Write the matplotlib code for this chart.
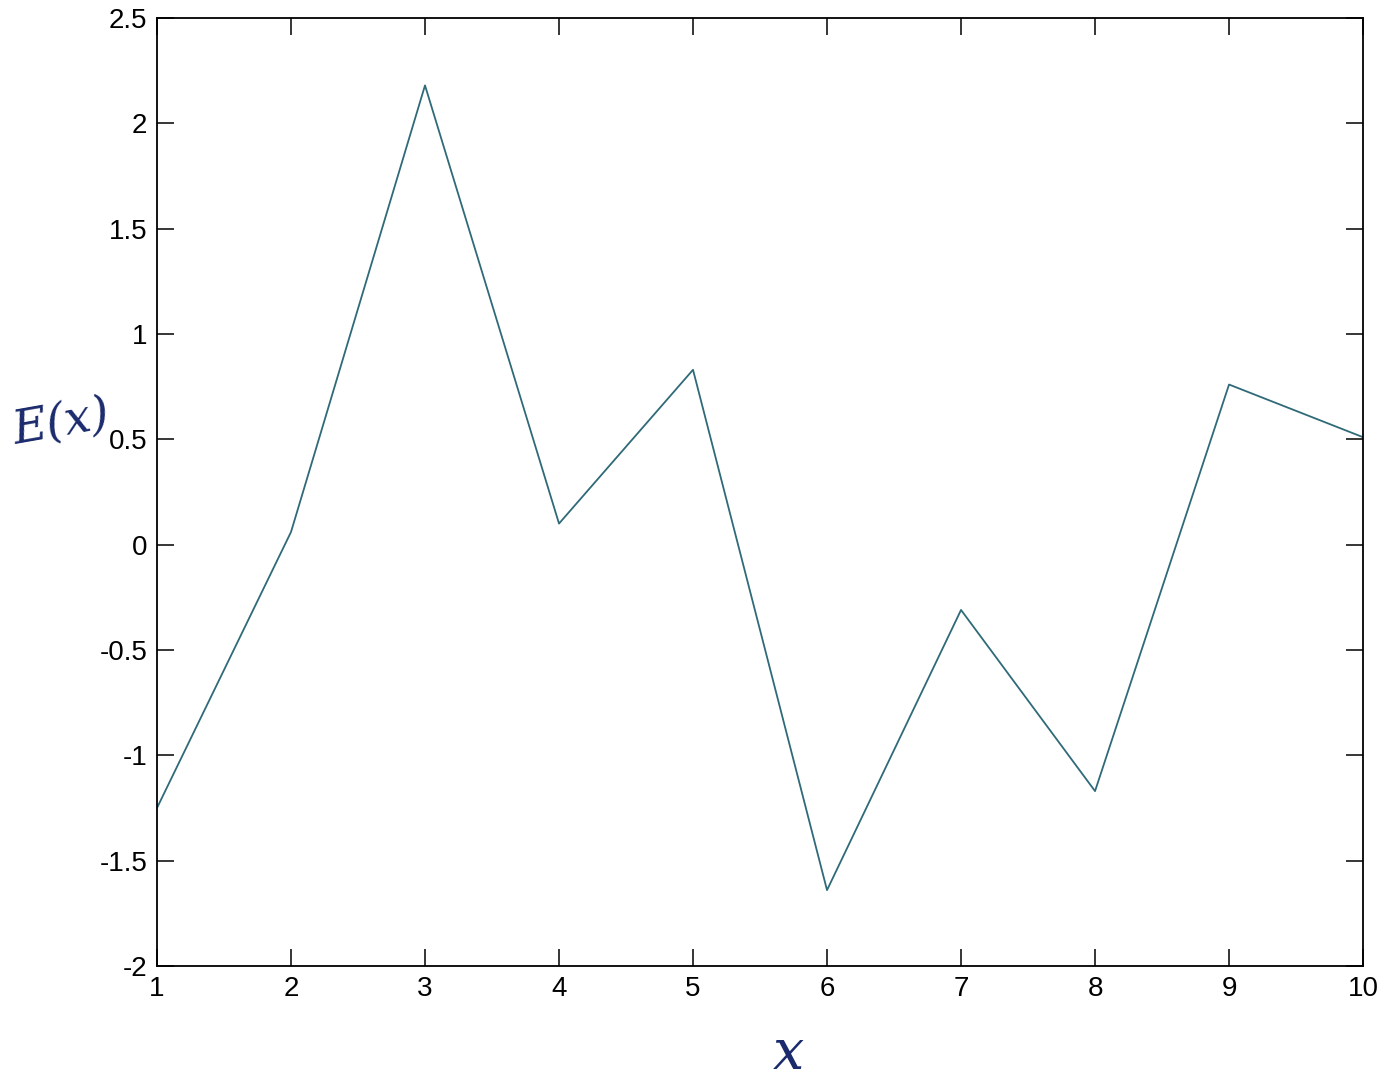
import numpy as np
import matplotlib
matplotlib.use("Agg")
import matplotlib.pyplot as plt

x_vals = [1, 2, 3, 4, 5, 6, 7, 8, 9, 10]
e_vals = [-1.25, 0.06, 2.18, 0.10, 0.83, -1.64, -0.31, -1.17, 0.76, 0.51]

plt.rcParams['font.family'] = ['Liberation Sans', 'DejaVu Sans']

fig = plt.figure(figsize=(13.93, 10.90), dpi=100)
ax = fig.add_axes([0.1127, 0.1138, 0.9785 - 0.1127, 0.9835 - 0.1138])

ax.plot(x_vals, e_vals, color='#2f6a78', linewidth=1.3)

ax.set_xlim(1, 10)
ax.set_ylim(-2, 2.5)
ax.set_xticks(np.arange(1, 11))
ax.set_yticks(np.arange(-2, 2.51, 0.5))
ax.set_yticklabels(['-2', '-1.5', '-1', '-0.5', '0', '0.5', '1', '1.5', '2', '2.5'])
ax.tick_params(direction='in', top=True, right=True, length=12, width=1.1,
               labelsize=20, pad=7)
for s in ax.spines.values():
    s.set_linewidth(1.3)

# handwritten axis labels
fig.text(0.044, 0.612, 'E(x)', fontsize=34, color='#1a2a6c', style='italic',
         rotation=10, ha='center', va='center', family='DejaVu Serif')
fig.text(0.566, 0.033, 'x', fontsize=40, color='#1a2a6c', style='italic',
         ha='center', va='center', family='DejaVu Serif')

fig.savefig('out.png', dpi=100)
